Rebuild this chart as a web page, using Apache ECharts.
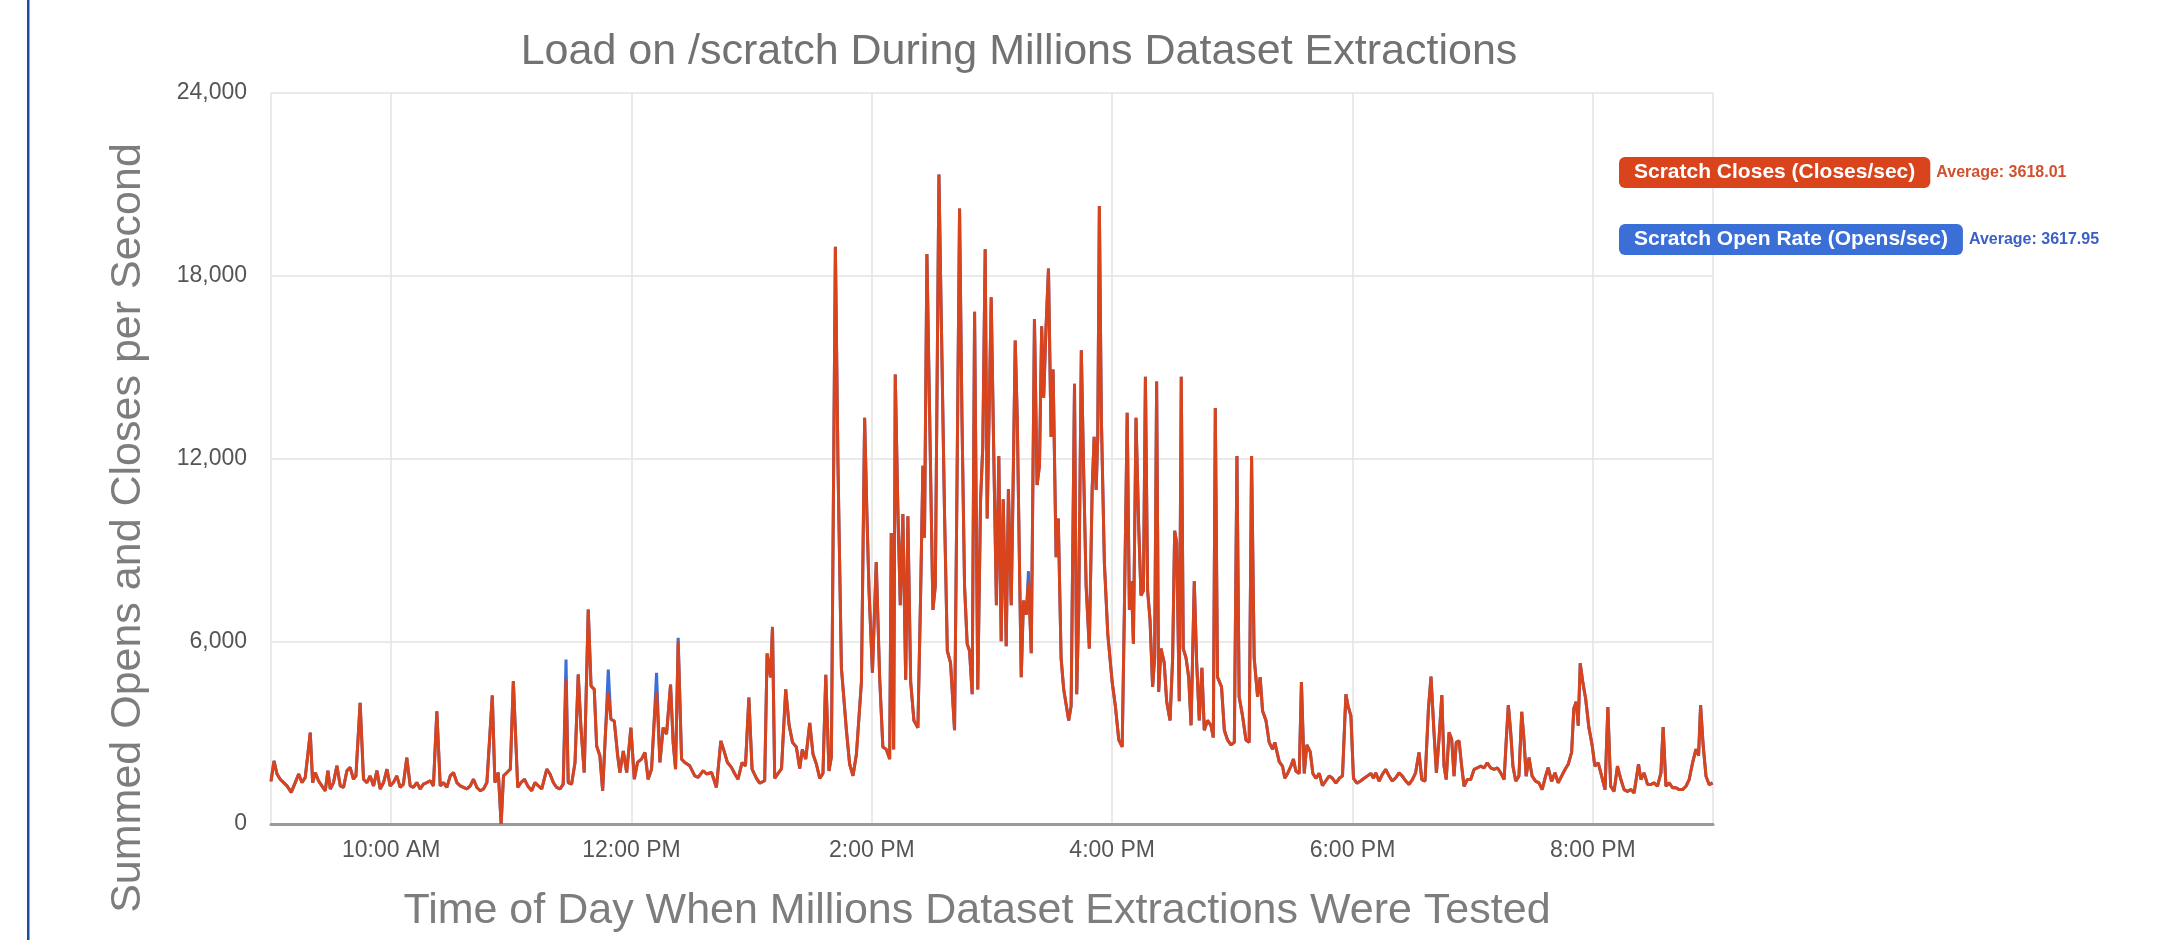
<!DOCTYPE html>
<html>
<head>
<meta charset="utf-8">
<script src="https://cdn.jsdelivr.net/npm/echarts@6/dist/echarts.min.js"></script>
<style>
html,body{margin:0;padding:0;background:#fff;}
#chart{width:2158px;height:940px;}
</style>
</head>
<body>
<div id="chart"></div>
<script>
const chartTitle = 'Load on /scratch During Millions Dataset Extractions';
const yTitle = 'Summed Opens and Closes per Second';
const xTitle = 'Time of Day When Millions Dataset Extractions Were Tested';
const closesName = 'Scratch Closes (Closes/sec)';
const opensName = 'Scratch Open Rate (Opens/sec)';
const closesAverage = '3618.01';
const opensAverage = '3617.95';
const yTicks = [0, 6000, 12000, 18000, 24000];
const startClock = '09:00';
const endClock = '21:00';

// minutes after 9:00 AM
const mins = [
0,1.5,3.0,4.6,6.3,8.0,10.1,12.1,13.8,15.5,17.1,19.6,20.8,22.1,23.7,25.4,27.1,28.4,29.6,31.2,
32.9,34.6,36.2,37.9,39.5,41.2,42.4,44.5,46.2,47.9,49.5,51.2,52.9,54.5,56.2,57.9,59.5,61.1,62.8,64.5,
66.1,67.8,69.5,71.1,72.8,74.5,76.1,77.8,79.5,81.1,82.8,84.5,86.1,87.8,89.5,91.1,92.8,94.5,96.1,97.8,
99.5,101.1,102.8,104.5,106.1,107.8,110.5,111.8,113.5,114.9,116.1,117.8,119.5,121.0,123.2,124.8,126.5,128.2,130.2,131.8,
133.5,135.2,137.7,139.3,141.0,142.6,144.3,145.9,147.3,148.4,150.1,151.8,153.4,154.8,156.4,158.4,159.8,161.4,162.6,164.2,
165.6,167.1,168.4,169.7,171.4,173.1,174.2,175.9,177.6,179.7,181.4,183.0,185.0,186.7,188.3,190.0,191.3,192.5,194.2,195.8,
197.5,199.5,200.8,202.0,203.3,205.0,206.6,209.1,211.6,213.3,215.8,217.5,220.0,222.4,224.6,226.2,227.9,229.9,231.6,233.2,
235.2,236.9,238.6,240.2,242.4,244.0,246.5,247.7,249.4,250.4,251.5,253.2,254.9,257.0,258.7,260.4,262.3,264.0,265.3,267.0,
269.0,270.6,272.3,274.0,275.6,277.0,278.6,279.8,281.8,283.1,284.8,287.3,288.9,290.6,292.3,294.8,296.4,297.6,298.6,300.3,
302.2,303.9,305.5,307.2,308.9,309.7,310.9,311.7,313.0,314.2,315.5,316.9,318.0,319.4,321.0,323.0,324.3,325.5,326.3,327.5,
328.8,330.5,331.7,333.5,334.7,336.3,337.7,339.3,341.3,342.5,343.8,345.0,346.3,347.6,348.8,350.1,351.3,352.1,352.9,354.3,
355.4,356.6,357.6,358.8,359.6,360.9,362.2,363.4,364.6,365.6,367.1,368.2,369.6,370.4,371.6,372.6,373.7,374.6,375.7,377.1,
378.2,379.6,381.2,382.5,383.7,384.8,385.8,387.0,388.2,389.5,390.5,392.0,393.1,394.5,395.8,398.3,399.5,401.2,402.3,403.3,
404.6,405.6,407.0,408.6,410.0,411.0,412.0,412.8,413.6,414.6,416.1,417.8,420.0,421.6,423.3,425.0,426.1,427.5,428.6,429.6,
430.6,431.9,433.2,434.4,435.6,436.6,437.7,438.9,440.2,441.2,442.2,443.2,444.4,446.0,447.2,448.9,450.2,451.2,452.2,453.5,
454.5,455.5,456.9,458.2,459.4,461.0,462.2,463.5,464.8,466.0,467.6,469.3,470.5,471.5,472.6,474.6,476.0,477.6,479.3,481.0,
482.3,483.4,485.1,486.8,488.4,489.6,490.9,492.6,493.9,495.1,496.8,498.4,500.1,501.2,503.4,505.1,506.2,507.6,509.2,510.5,
511.7,513.4,514.5,515.9,517.2,518.9,520.2,521.7,523.4,525.0,526.7,528.4,530.0,531.7,533.4,535.0,536.7,537.8,539.2,540.5,
542.2,544.2,545.8,547.5,549.2,550.5,551.6,553.3,554.9,556.6,558.3,559.9,561.6,563.2,564.9,566.6,568.2,569.9,571.5,573.2,
574.6,576.2,577.9,579.2,580.7,581.9,583.2,584.6,585.7,586.8,588.2,589.5,590.7,591.8,593.2,594.5,595.7,597.3,599.0,600.7,
602.3,604.0,605.7,607.3,609.0,610.7,612.4,614.0,615.7,616.8,617.8,619.0,620.1,621.5,623.1,624.5,625.6,626.7,628.1,629.7,
631.4,633.1,634.7,636.4,637.7,639.4,641.1,642.7,644.4,646.1,647.7,649.4,650.5,651.7,652.7,653.7,655.0,656.4,658.0,659.7,
661.0,662.7,664.4,666.1,667.5,668.9,670.6,672.3,674.0,675.6,677.3,679.0,680.6,682.8,684.0,685.6,687.3,689.0,690.6,692.3,
694.0,695.1,696.5,698.1,699.8,701.5,703.1,704.8,706.5,708.1,709.8,711.5,712.8,713.8,715.1,716.5,718.1,719.8
];

const closes = [
1400,2070,1640,1470,1360,1250,1040,1360,1640,1360,1530,3000,1360,1690,1420,1250,1090,1750,1150,1360,
1910,1250,1200,1750,1860,1470,1580,3980,1470,1360,1580,1250,1750,1150,1360,1800,1250,1360,1580,1200,
1310,2180,1250,1200,1360,1150,1310,1360,1420,1250,3700,1250,1360,1200,1580,1690,1360,1250,1200,1150,
1250,1470,1200,1090,1150,1360,4220,1360,1690,0,1580,1690,1800,4690,1200,1360,1470,1250,1090,1360,
1250,1150,1800,1640,1360,1200,1150,1310,4750,1360,1310,2020,4910,3120,1690,7040,4530,4420,2560,2240,
1090,3120,4360,3440,3380,2240,1690,2400,1690,3160,1470,2020,2130,2350,1470,1800,3350,4360,2020,3160,
2950,4580,2670,1800,6000,2130,2020,1910,1580,1530,1750,1640,1690,1200,2730,2400,2020,1860,1640,1470,
2020,1910,4150,1800,1500,1340,1420,5600,4820,6470,1500,1660,1820,4420,3240,2680,2530,1820,2450,2130,
3320,2300,1970,1500,1660,4900,1740,2210,18950,11760,5130,3080,1970,1580,2290,4660,13340,10030,7660,4970,
8600,4810,2530,2450,2130,9550,2450,14760,10340,7180,10180,4740,10100,4660,3400,3160,7340,11760,9400,18710,
13660,7030,7820,21320,16500,10180,5680,5290,3080,10970,20210,13340,7820,5920,5680,4260,16820,10500,4420,10660,
12400,18870,10030,14290,17290,12080,7180,12080,6000,10660,5840,11000,7180,10500,15870,13340,8600,4820,7340,6870,
7970,5610,16580,11130,11760,16340,14000,16340,18240,12710,14920,8760,10030,5450,4420,3400,3870,14450,4260,7030,
15550,12080,7820,5760,10970,12710,10970,12710,20290,13340,8600,6240,4660,3870,2760,2530,7030,13500,7030,7970,
5920,13340,9870,7500,7660,14680,7660,6710,4500,5450,14530,4340,5760,5290,4030,3400,5450,9630,9240,4030,
14680,5760,5450,4820,3240,7970,5290,3400,5130,3080,3400,3240,2840,13660,4820,4500,3080,2760,2600,2680,
12080,4180,3550,2760,2680,12080,5450,4180,4820,3710,3400,2680,2450,2680,2050,1890,1500,1660,1890,2130,
1740,1660,4660,1660,2600,2370,1660,1500,1660,1260,1420,1580,1500,1340,1500,1580,4260,3870,3550,1500,
1340,1420,1500,1580,1660,1500,1680,1410,1630,1790,1570,1410,1520,1680,1570,1410,1300,1460,1680,2350,
1460,1410,3760,4840,3000,1680,2790,4230,1900,1460,3010,2790,1570,2680,2730,1900,1240,1460,1460,1790,
1840,1900,1840,2010,1840,1790,1840,1680,1460,2790,3900,3010,1900,1410,1570,3680,2790,1570,2180,1570,
1410,1350,1130,1570,1850,1400,1680,1350,1570,1790,1960,2350,3790,4010,3230,5280,4650,4120,3180,2570,
1900,2010,1570,1130,3840,1240,1070,1900,1460,1130,1070,1130,1020,1960,1460,1680,1300,1300,1350,1240,
1680,3180,1240,1350,1190,1190,1130,1130,1240,1460,2010,2460,2240,3900,2570,1570,1290,1350
];

const opens = [
1400,2070,1640,1470,1360,1250,1040,1360,1640,1360,1530,3000,1360,1690,1420,1250,1090,1750,1150,1360,
1910,1250,1200,1750,1860,1470,1580,3980,1470,1360,1580,1250,1750,1150,1360,1800,1250,1360,1580,1200,
1310,2180,1250,1200,1360,1150,1310,1360,1420,1250,3700,1250,1360,1200,1580,1690,1360,1250,1200,1150,
1250,1470,1200,1090,1150,1360,4220,1360,1690,0,1580,1690,1800,4690,1200,1360,1470,1250,1090,1360,
1250,1150,1800,1640,1360,1200,1150,1310,5400,1360,1310,2020,4910,3120,1690,7040,4530,4420,2560,2240,
1090,3120,5070,3440,3380,2240,1690,2400,1690,3160,1470,2020,2130,2350,1470,1800,3350,4960,2020,3160,
2950,4580,2670,1800,6110,2130,2020,1910,1580,1530,1750,1640,1690,1200,2730,2400,2020,1860,1640,1470,
2020,1910,4150,1800,1500,1340,1420,5600,4820,6470,1500,1660,1820,4420,3240,2680,2530,1820,2450,2130,
3320,2300,1970,1500,1660,4900,1740,2210,18950,11760,5130,3080,1970,1580,2290,4660,13340,10030,7660,4970,
8600,4810,2530,2450,2130,9550,2450,14760,10340,7180,10180,4740,10100,4660,3400,3160,7340,11760,9400,18710,
13660,7030,7820,21320,16500,10180,5680,5290,3080,10970,20210,13340,7820,5920,5680,4260,16820,10500,4420,10660,
12400,18870,10030,14290,17290,12080,7180,12080,6000,10660,5840,11000,7180,10500,15870,13340,8600,4820,7340,6870,
8300,5610,16580,11130,11760,16340,14000,16340,18240,12710,14920,8760,10030,5450,4420,3400,3870,14450,4260,7030,
15550,12080,7820,5760,10970,12710,10970,12710,20290,13340,8600,6240,4660,3870,2760,2530,7030,13500,7030,7970,
5920,13340,9870,7500,7660,14680,7660,6710,4500,5450,14530,4340,5760,5290,4030,3400,5450,9630,9240,4030,
14680,5760,5450,4820,3240,7970,5290,3400,5130,3080,3400,3240,2840,13660,4820,4500,3080,2760,2600,2680,
12080,4180,3550,2760,2680,12080,5450,4180,4820,3710,3400,2680,2450,2680,2050,1890,1500,1660,1890,2130,
1740,1660,4660,1660,2600,2370,1660,1500,1660,1260,1420,1580,1500,1340,1500,1580,4260,3870,3550,1500,
1340,1420,1500,1580,1660,1500,1680,1410,1630,1790,1570,1410,1520,1680,1570,1410,1300,1460,1680,2350,
1460,1410,3760,4840,3000,1680,2790,4230,1900,1460,3010,2790,1570,2680,2730,1900,1240,1460,1460,1790,
1840,1900,1840,2010,1840,1790,1840,1680,1460,2790,3900,3010,1900,1410,1570,3680,2790,1570,2180,1570,
1410,1350,1130,1570,1850,1400,1680,1350,1570,1790,1960,2350,3790,4010,3230,5280,4650,4120,3180,2570,
1900,2010,1570,1130,3840,1240,1070,1900,1460,1130,1070,1130,1020,1960,1460,1680,1300,1300,1350,1240,
1680,3180,1240,1350,1190,1190,1130,1130,1240,1460,2010,2460,2240,3900,2570,1570,1290,1350
];

function clockToDate(clock) {
  const [h, m] = clock.split(':').map(Number);
  return new Date(2018, 5, 4, h, m, 0).getTime();
}
const t0 = clockToDate(startClock);
const t1 = clockToDate(endClock);
const toPairs = vals => mins.map((m, i) => [t0 + m * 60000, vals[i]]);

function fmtClock(v) {
  const d = new Date(v);
  const h = d.getHours();
  const ap = h >= 12 ? 'PM' : 'AM';
  let h12 = h % 12; if (h12 === 0) h12 = 12;
  return h12 + ':' + String(d.getMinutes()).padStart(2, '0') + ' ' + ap;
}

const FONT = '"Liberation Sans", Arial, Helvetica, sans-serif';
const RED = '#d9441c';
const BLUE = '#3a6fd8';

const chart = echarts.init(document.getElementById('chart'), null, {renderer: 'canvas'});
chart.setOption({
  animation: false,
  backgroundColor: '#ffffff',
  textStyle: {fontFamily: FONT},
  grid: {left: 271, right: 445, top: 93, bottom: 116, containLabel: false, outerBoundsMode: 'none'},
  graphic: [
    {type: 'rect', shape: {x: 27, y: 0, width: 2.5, height: 940}, style: {fill: '#1f4c9a'}, silent: true},
    {type: 'text', x: 1019, y: 52, style: {text: chartTitle, fontFamily: FONT, fontSize: 43, fill: '#727272', align: 'center', verticalAlign: 'middle'}},
    {type: 'text', x: 128, y: 528, rotation: Math.PI / 2, style: {text: yTitle, fontFamily: FONT, fontSize: 43, fill: '#7d7d7d', align: 'center', verticalAlign: 'middle'}},
    {type: 'text', x: 977, y: 911, style: {text: xTitle, fontFamily: FONT, fontSize: 43, fill: '#7d7d7d', align: 'center', verticalAlign: 'middle'}}
  ],
  legend: {
    orient: 'vertical',
    left: 1609,
    top: 152,
    itemGap: 36,
    itemWidth: 0,
    itemHeight: 0,
    icon: 'none',
    selectedMode: false,
    data: [closesName, opensName],
    formatter: name => name === closesName
      ? '{rp|' + name + '}{ra|Average: ' + closesAverage + '}'
      : '{bp|' + name + '}{ba|Average: ' + opensAverage + '}',
    textStyle: {
      fontFamily: FONT,
      rich: {
        rp: {backgroundColor: RED, color: '#fff', fontWeight: 'bold', fontSize: 21, lineHeight: 22, padding: [5, 15, 5, 15], borderRadius: 6, fontFamily: FONT},
        bp: {backgroundColor: BLUE, color: '#fff', fontWeight: 'bold', fontSize: 21, lineHeight: 22, padding: [5, 15, 5, 15], borderRadius: 6, fontFamily: FONT},
        ra: {color: '#d2502e', fontWeight: 'bold', fontSize: 16, padding: [0, 0, 0, 6], fontFamily: FONT},
        ba: {color: '#3b5fc4', fontWeight: 'bold', fontSize: 16, padding: [0, 0, 0, 6], fontFamily: FONT}
      }
    }
  },
  xAxis: {
    type: 'time',
    min: t0,
    max: t1,
    minInterval: 2.5 * 3600 * 1000,
    maxInterval: 2.5 * 3600 * 1000,
    axisLine: {show: true, lineStyle: {color: '#9a9a9a', width: 3}},
    axisTick: {show: false},
    splitLine: {show: true, lineStyle: {color: '#e3e3e3', width: 1.5}},
    axisLabel: {formatter: fmtClock, fontSize: 23, color: '#555', margin: 15, fontFamily: FONT, showMinLabel: false, showMaxLabel: false}
  },
  yAxis: {
    type: 'value',
    min: yTicks[0],
    max: yTicks[yTicks.length - 1],
    interval: yTicks[1] - yTicks[0],
    axisLine: {show: false},
    axisTick: {show: false},
    splitLine: {show: true, lineStyle: {color: '#e3e3e3', width: 1.5}},
    axisLabel: {formatter: v => v.toLocaleString('en-US'), fontSize: 23, color: '#555', margin: 24, fontFamily: FONT}
  },
  series: [
    {name: opensName, type: 'line', data: toPairs(opens), showSymbol: false, symbol: 'none', lineStyle: {color: BLUE, width: 3}, itemStyle: {color: BLUE}, z: 2},
    {name: closesName, type: 'line', data: toPairs(closes), showSymbol: false, symbol: 'none', lineStyle: {color: RED, width: 3}, itemStyle: {color: RED}, z: 3}
  ]
});
</script>
</body>
</html>
